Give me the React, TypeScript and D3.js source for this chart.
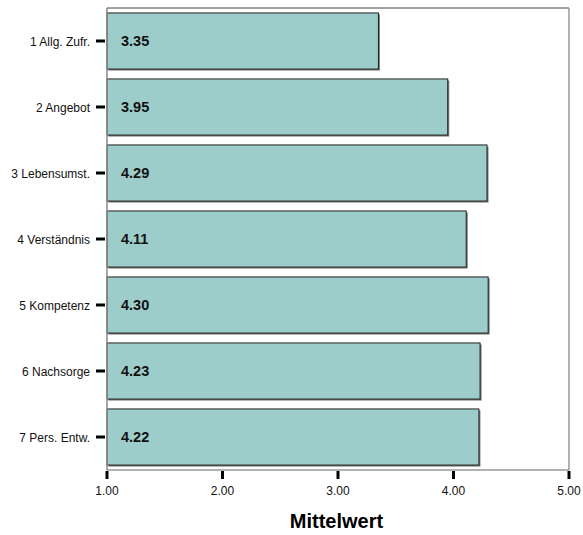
import React from "react";
import * as d3 from "d3";

const categories = [
  "1 Allg. Zufr.",
  "2 Angebot",
  "3 Lebensumst.",
  "4 Verständnis",
  "5 Kompetenz",
  "6 Nachsorge",
  "7 Pers. Entw.",
];
const values = [3.35, 3.95, 4.29, 4.11, 4.3, 4.23, 4.22];
const xTicks = [1, 2, 3, 4, 5];

export default function App() {
  const W = 583, H = 535;
  const left = 107, right = 569, top = 8, bottom = 470;
  const x = d3.scaleLinear().domain([1, 5]).range([left, right]);
  const y = d3.scaleBand<string>().domain(categories).range([top, bottom]).paddingInner(0.15).paddingOuter(0.075);
  const font = "Liberation Sans, Arial, Helvetica, sans-serif";
  return (
    <svg width={W} height={H} style={{ position: "absolute", left: 0, top: 0 }} fontFamily={font}>
      <rect x={0} y={0} width={W} height={H} fill="#fff" />
      {/* frame */}
      <line x1={left} y1={top} x2={right} y2={top} stroke="#444" strokeWidth={1} />
      <line x1={right} y1={top} x2={right} y2={bottom} stroke="#999" strokeWidth={1.5} />
      <line x1={left} y1={bottom} x2={right} y2={bottom} stroke="#999" strokeWidth={1.5} />
      {categories.map((c, i) => {
        const y0 = y(c)!;
        const bh = y.bandwidth();
        return (
          <g key={c}>
            <rect x={x(1) + 1.5} y={y0 + 1.5} width={x(values[i]) - x(1)} height={bh} fill="#777" />
            <rect x={x(1)} y={y0} width={x(values[i]) - x(1)} height={bh} fill="#9dcdca" stroke="#222" strokeWidth={1} />
            <text x={121} y={y0 + bh / 2 + 5} fontSize={14.5} fontWeight="bold" fill="#111">
              {values[i].toFixed(2)}
            </text>
            <line x1={96} x2={105} y1={y0 + bh / 2} y2={y0 + bh / 2} stroke="#000" strokeWidth={3} />
            <text x={90} y={y0 + bh / 2 + 4.5} fontSize={12} textAnchor="end" fill="#111">
              {c}
            </text>
          </g>
        );
      })}
      <line x1={left} y1={top} x2={left} y2={bottom} stroke="#888" strokeWidth={1.5} />
      {xTicks.map((t) => (
        <g key={t}>
          <line x1={x(t)} x2={x(t)} y1={bottom + 1} y2={bottom + 9} stroke="#000" strokeWidth={3} />
          <text x={x(t)} y={495} textAnchor="middle" fontSize={12} fill="#111">
            {t.toFixed(2)}
          </text>
        </g>
      ))}
      <text x={336.5} y={528} textAnchor="middle" fontSize={20} fontWeight="bold" fill="#000">
        Mittelwert
      </text>
    </svg>
  );
}
